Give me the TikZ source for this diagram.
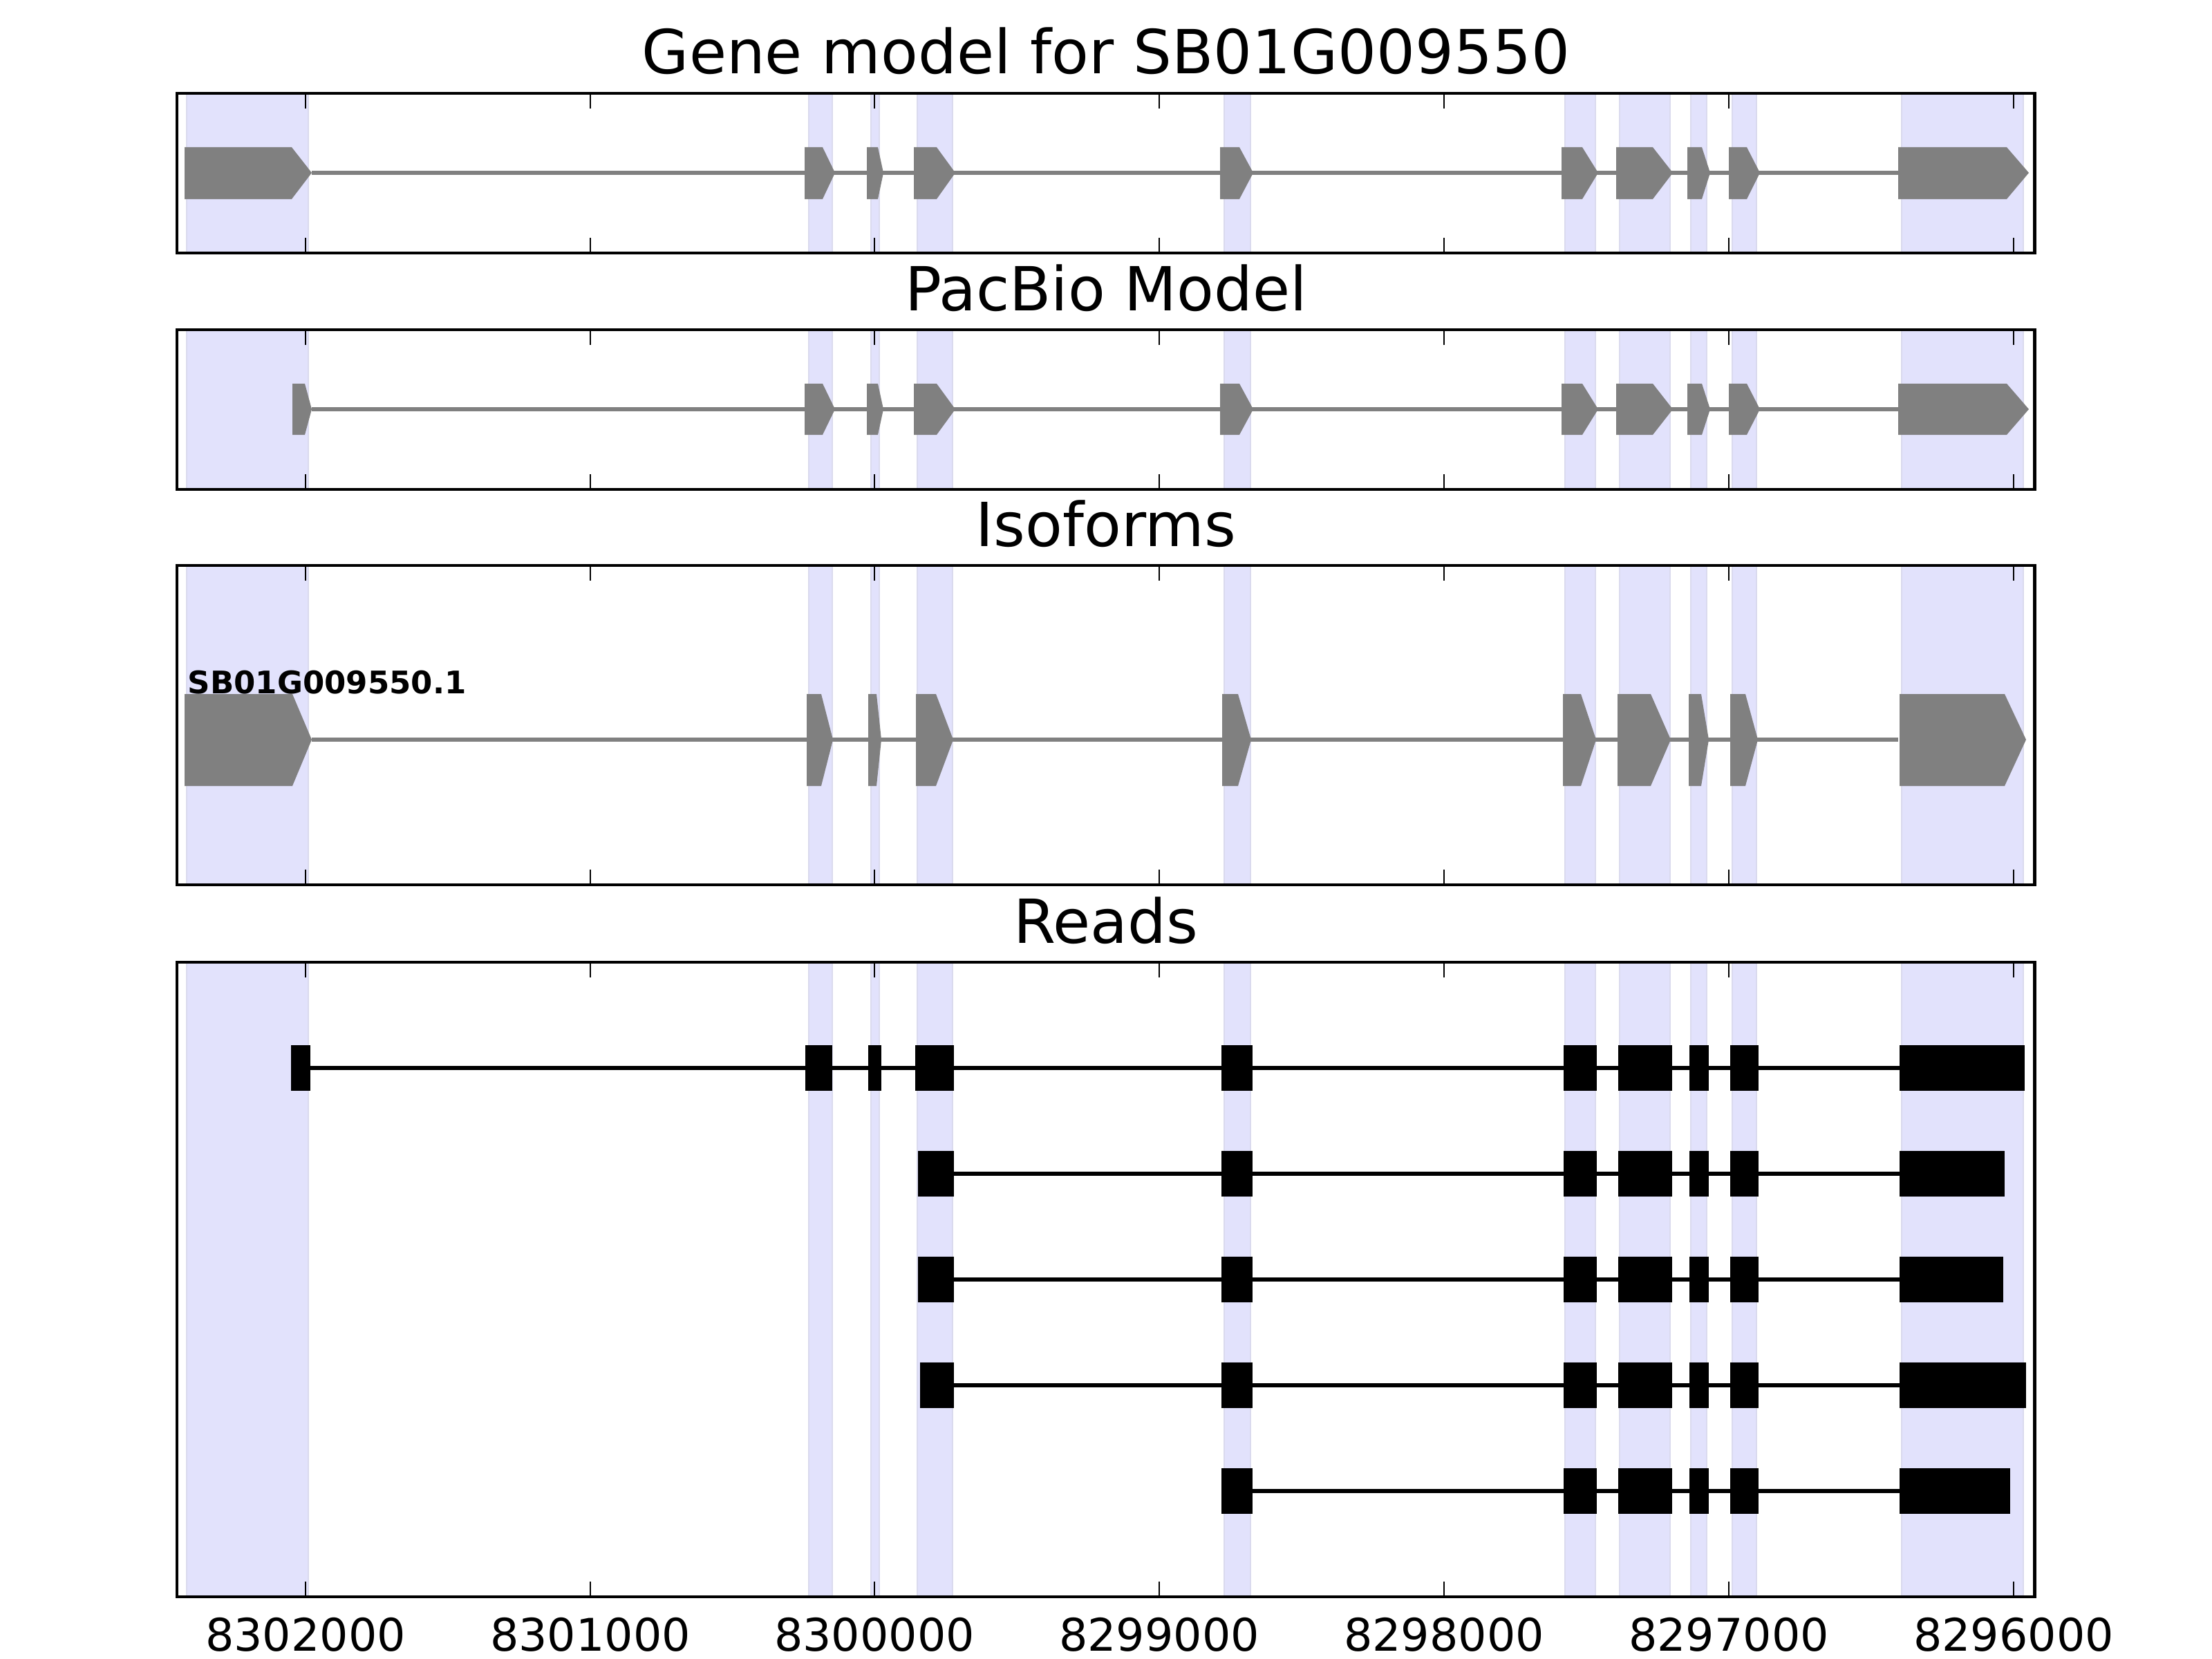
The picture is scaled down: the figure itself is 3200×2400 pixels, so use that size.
\documentclass[tikz,border=0pt]{standalone}
\usepackage{fontspec}
\setmainfont{DejaVu Sans}
\definecolor{shade}{RGB}{226,226,252}
\definecolor{shadeedge}{RGB}{218,218,238}
\definecolor{exongray}{RGB}{128,128,128}
\tikzset{
  shadebox/.style={fill=shade,draw=shadeedge,line width=0.6pt},
  frame/.style={draw=black,line width=1.4pt},
  tickmark/.style={draw=black,line width=0.75pt},
  intron/.style={draw=exongray,line width=1.45pt},
  readline/.style={draw=black,line width=1.45pt},
  exonshape/.style={fill=exongray},
  readexon/.style={fill=black},
  paneltitle/.style={anchor=base,inner sep=0pt,font=\fontsize{25}{30}\selectfont},
  ticklabel/.style={anchor=base,inner sep=0pt,font=\fontsize{18.5}{22}\selectfont},
  isolabel/.style={anchor=base west,inner sep=0pt,font=\bfseries\fontsize{12.8}{15}\selectfont}
}
\begin{document}
\begin{tikzpicture}[x=0.01cm,y=-0.01cm]
\useasboundingbox (0,0) rectangle (3200,2400);
\fill[white] (0,0) rectangle (3200,2400);

% shaded exon regions in every panel
\foreach \t/\b in {135/366,477/708,818/1280,1392/2310}{
  \foreach \l/\r in {270/446,1170/1204,1260/1272,1327/1378,1771/1809,2264/2308,2343/2416,2446/2469,2506/2541,2751/2927}{
    \path[shadebox] (\l,\t) rectangle (\r,\b);
  }
}

% panel 1: gene model
\draw[intron] (451,250) -- (2746,250);
\foreach \l/\s/\p in {267/422/451,1164/1190/1208,1254/1270/1278,1322/1355/1382,1765/1793/1813,2259/2289/2312,2338/2391/2420,2441/2462/2474,2501/2527/2546,2746/2903/2935}{
  \fill[exonshape] (\l,213) -- (\s,213) -- (\p,250) -- (\s,288) -- (\l,288) -- cycle;
}

% panel 2: PacBio model
\draw[intron] (451,592) -- (2746,592);
\foreach \l/\s/\p in {423/441/451,1164/1190/1208,1254/1270/1278,1322/1355/1382,1765/1793/1813,2259/2289/2312,2338/2391/2420,2441/2462/2474,2501/2527/2546,2746/2903/2935}{
  \fill[exonshape] (\l,555) -- (\s,555) -- (\p,592) -- (\s,629) -- (\l,629) -- cycle;
}

% panel 3: isoforms
\draw[intron] (451,1070) -- (2746,1070);
\foreach \l/\s/\p in {267/423/451,1167/1188/1205,1256/1268/1275,1325/1354/1379,1768/1791/1810,2261/2287/2309,2340/2388/2417,2443/2461/2472,2503/2525/2543,2748/2900/2931}{
  \fill[exonshape] (\l,1004) -- (\s,1004) -- (\p,1070) -- (\s,1137) -- (\l,1137) -- cycle;
}
\node[isolabel] (iso) at (271,1003) {SB01G009550.1};

% panel 4: reads
\draw[readline] (435,1545) -- (2800,1545);
\foreach \l/\r in {421/448.5,1165/1204,1256/1275,1324/1380,1767/1812,2262/2310,2341/2419,2444/2472,2503/2544,2748/2929}{
  \fill[readexon] (\l,1512) rectangle (\r,1578);
}
\foreach \y/\a/\e in {1698/1328/2900,1851/1328/2898,2004/1331/2931}{
  \draw[readline] (1350,\y) -- (2800,\y);
  \fill[readexon] (\a,\y-33) rectangle (1380,\y+33);
  \foreach \l/\r in {1767/1812,2262/2310,2341/2419,2444/2472,2503/2544}{
    \fill[readexon] (\l,\y-33) rectangle (\r,\y+33);
  }
  \fill[readexon] (2748,\y-33) rectangle (\e,\y+33);
}
\draw[readline] (1790,2157) -- (2800,2157);
\foreach \l/\r in {1767/1812,2262/2310,2341/2419,2444/2472,2503/2544,2748/2908}{
  \fill[readexon] (\l,2124) rectangle (\r,2190);
}

% frames and ticks
\foreach \t/\b in {135/366,477/708,818/1280,1392/2310}{
  \foreach \x in {442,854,1265,1677,2089,2501,2913}{
    \draw[tickmark] (\x,\t) -- ++(0,22);
    \draw[tickmark] (\x,\b) -- ++(0,-22);
  }
  \draw[frame] (256,\t) rectangle (2943,\b);
}

% titles
\node[paneltitle] (t1) at (1600,107) {Gene model for SB01G009550};
\node[paneltitle] (t2) at (1600,449) {PacBio Model};
\node[paneltitle] (t3) at (1600,790) {Isoforms};
\node[paneltitle] (t4) at (1600,1364) {Reads};

% tick labels
\node[ticklabel] (x1) at (442,2388) {8302000};
\node[ticklabel] (x2) at (854,2388) {8301000};
\node[ticklabel] (x3) at (1265,2388) {8300000};
\node[ticklabel] (x4) at (1677,2388) {8299000};
\node[ticklabel] (x5) at (2089,2388) {8298000};
\node[ticklabel] (x6) at (2501,2388) {8297000};
\node[ticklabel] (x7) at (2913,2388) {8296000};
\end{tikzpicture}
\end{document}
